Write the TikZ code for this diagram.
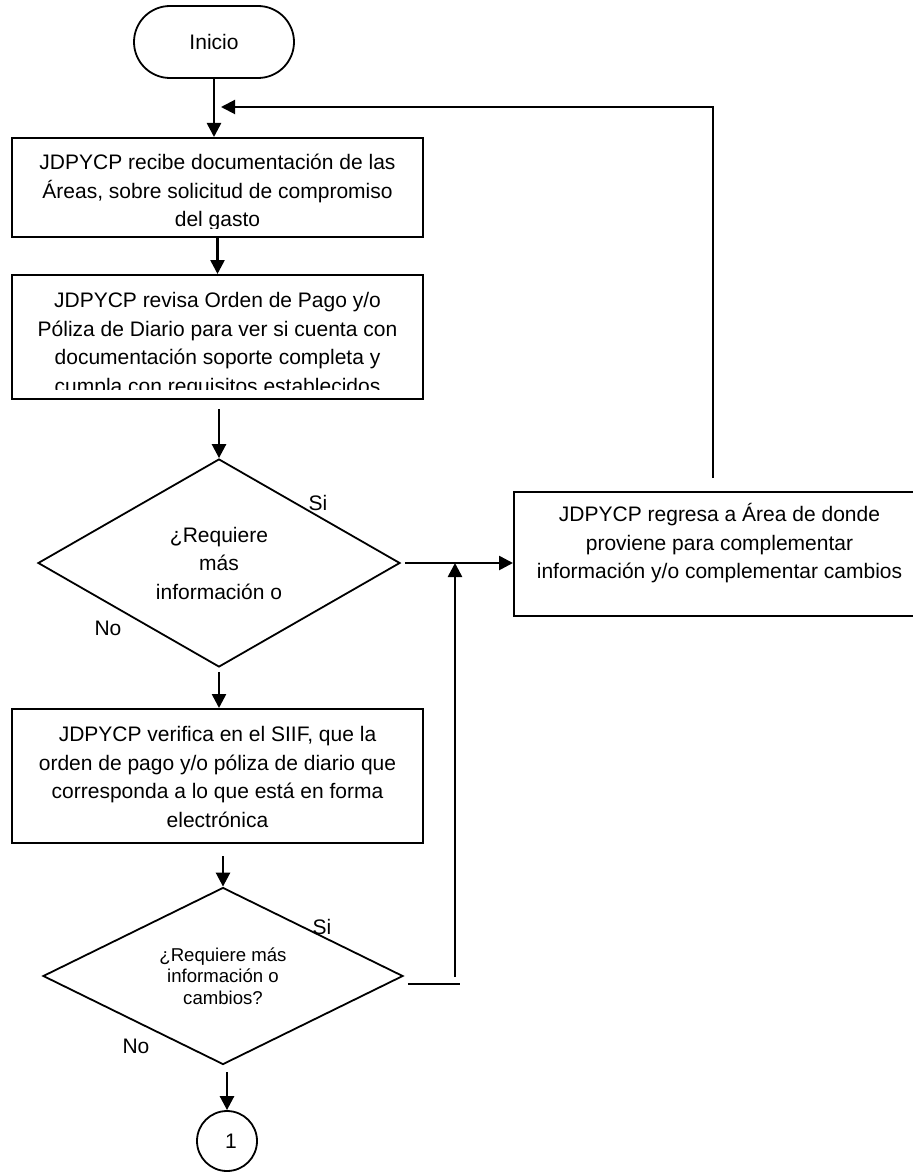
\documentclass[tikz,border=0pt]{standalone}
\usepackage{fontspec}
\setmainfont{Liberation Sans}
\usetikzlibrary{shapes.geometric,arrows.meta}

\begin{document}
\begin{tikzpicture}[
    x=0.5pt, y=-0.5pt,
    font=\fontsize{10.5pt}{14.25pt}\selectfont,
    >={Triangle[length=7pt,width=7pt]},
    box/.style={
        draw=black,
        line width=1pt,
        minimum width=205.5pt,
        inner sep=0pt
    },
    txt/.style={
        align=center,
        inner sep=0pt,
        anchor=north
    },
    decision/.style={
        diamond,
        draw=black,
        line width=0.9pt,
        align=center,
        inner sep=0pt,
        shape aspect=1.74
    },
    lbl/.style={inner sep=0pt}
]
\useasboundingbox (0,0) rectangle (913,1172);

\node[draw=black, line width=0.9pt, rounded corners=18pt, minimum width=80pt, minimum height=36pt] (start) at (214,42) {Inicio};

\node[box, minimum height=49.5pt] (recibe) at (217.5,187.5) {};
\begin{scope}
\clip (recibe.north west) rectangle ([yshift=5pt]recibe.south east);
\node[txt] (recibetxt) at ([yshift=-8.5pt]recibe.north) {JDPYCP recibe documentación de las\\Áreas, sobre solicitud de compromiso\\del gasto};
\end{scope}

\node[box, minimum height=62pt] (revisa) at (217.5,337) {};
\begin{scope}
\clip (revisa.north west) rectangle ([yshift=5.5pt]revisa.south east);
\node[txt] (revisatxt) at ([yshift=-9pt]revisa.north) {JDPYCP revisa Orden de Pago y/o\\Póliza de Diario para ver si cuenta con\\documentación soporte completa y\\cumpla con requisitos establecidos};
\end{scope}

\node[decision, minimum width=181pt, minimum height=104pt] (req1) at (219,563) {¿Requiere\\más\\información o};
\node[lbl] (si1) at (318,503) {Si};
\node[lbl] (no1) at (108,628) {No};

\node[box, minimum height=62pt] (regresa) at (719.5,554) {};
\node[txt] (regresatxt) at ([yshift=-6pt]regresa.north) {JDPYCP regresa a Área de donde\\proviene para complementar\\información y/o complementar cambios};

\node[box, minimum height=67pt] (verifica) at (217.5,776) {};
\node[txt] (verificatxt) at ([yshift=-9pt]verifica.north) {JDPYCP verifica en el SIIF, que la\\orden de pago y/o póliza de diario que\\corresponda a lo que está en forma\\electrónica};

\node[decision, shape aspect=2.03, minimum width=180pt, minimum height=88.5pt, font=\fontsize{9.3pt}{10.75pt}\selectfont] (req2) at (223,976) {¿Requiere más\\información o\\cambios?};
\node[lbl] (si2) at (322,927) {Si};
\node[lbl] (no2) at (136,1046) {No};

\node[circle, draw=black, line width=0.9pt, minimum size=30pt, inner sep=0pt] (conn) at (227,1141) {\hspace{4pt}1};

% flow
\draw[->, line width=1.3pt] (start.south) -- (start.south |- recibe.north);
\draw[->, line width=1.3pt] (recibe.south) -- (revisa.north);
\draw[->, line width=1.3pt] ([yshift=-4.5pt]revisa.south -| req1.north) -- (req1.north);
\draw[->, line width=1.3pt] ([xshift=2pt]req1.east) -- (req1.east -| regresa.west);
\draw[->, line width=1.3pt] ([yshift=-2pt]req1.south) -- (req1.south |- verifica.north);
\draw[->, line width=1.3pt] ([yshift=-6pt]verifica.south -| req2.north) -- (req2.north);
\draw[->, line width=1.3pt] ([yshift=-3.5pt]req2.south -| conn.north) -- (conn.north);

% return loops
\coordinate (ret) at (713,478);
\coordinate (fb) at (713,107);
\draw[->, line width=1pt] (ret) |- ([xshift=3.5pt]start.south |- fb);
\coordinate (up) at (455,977);
\draw[->, line width=1.3pt] (up) -- (up |- req1.east);
\draw[line width=0.8pt] ([xshift=2pt,yshift=-4pt]req2.east) -- ++(52,0);

\end{tikzpicture}
\end{document}
